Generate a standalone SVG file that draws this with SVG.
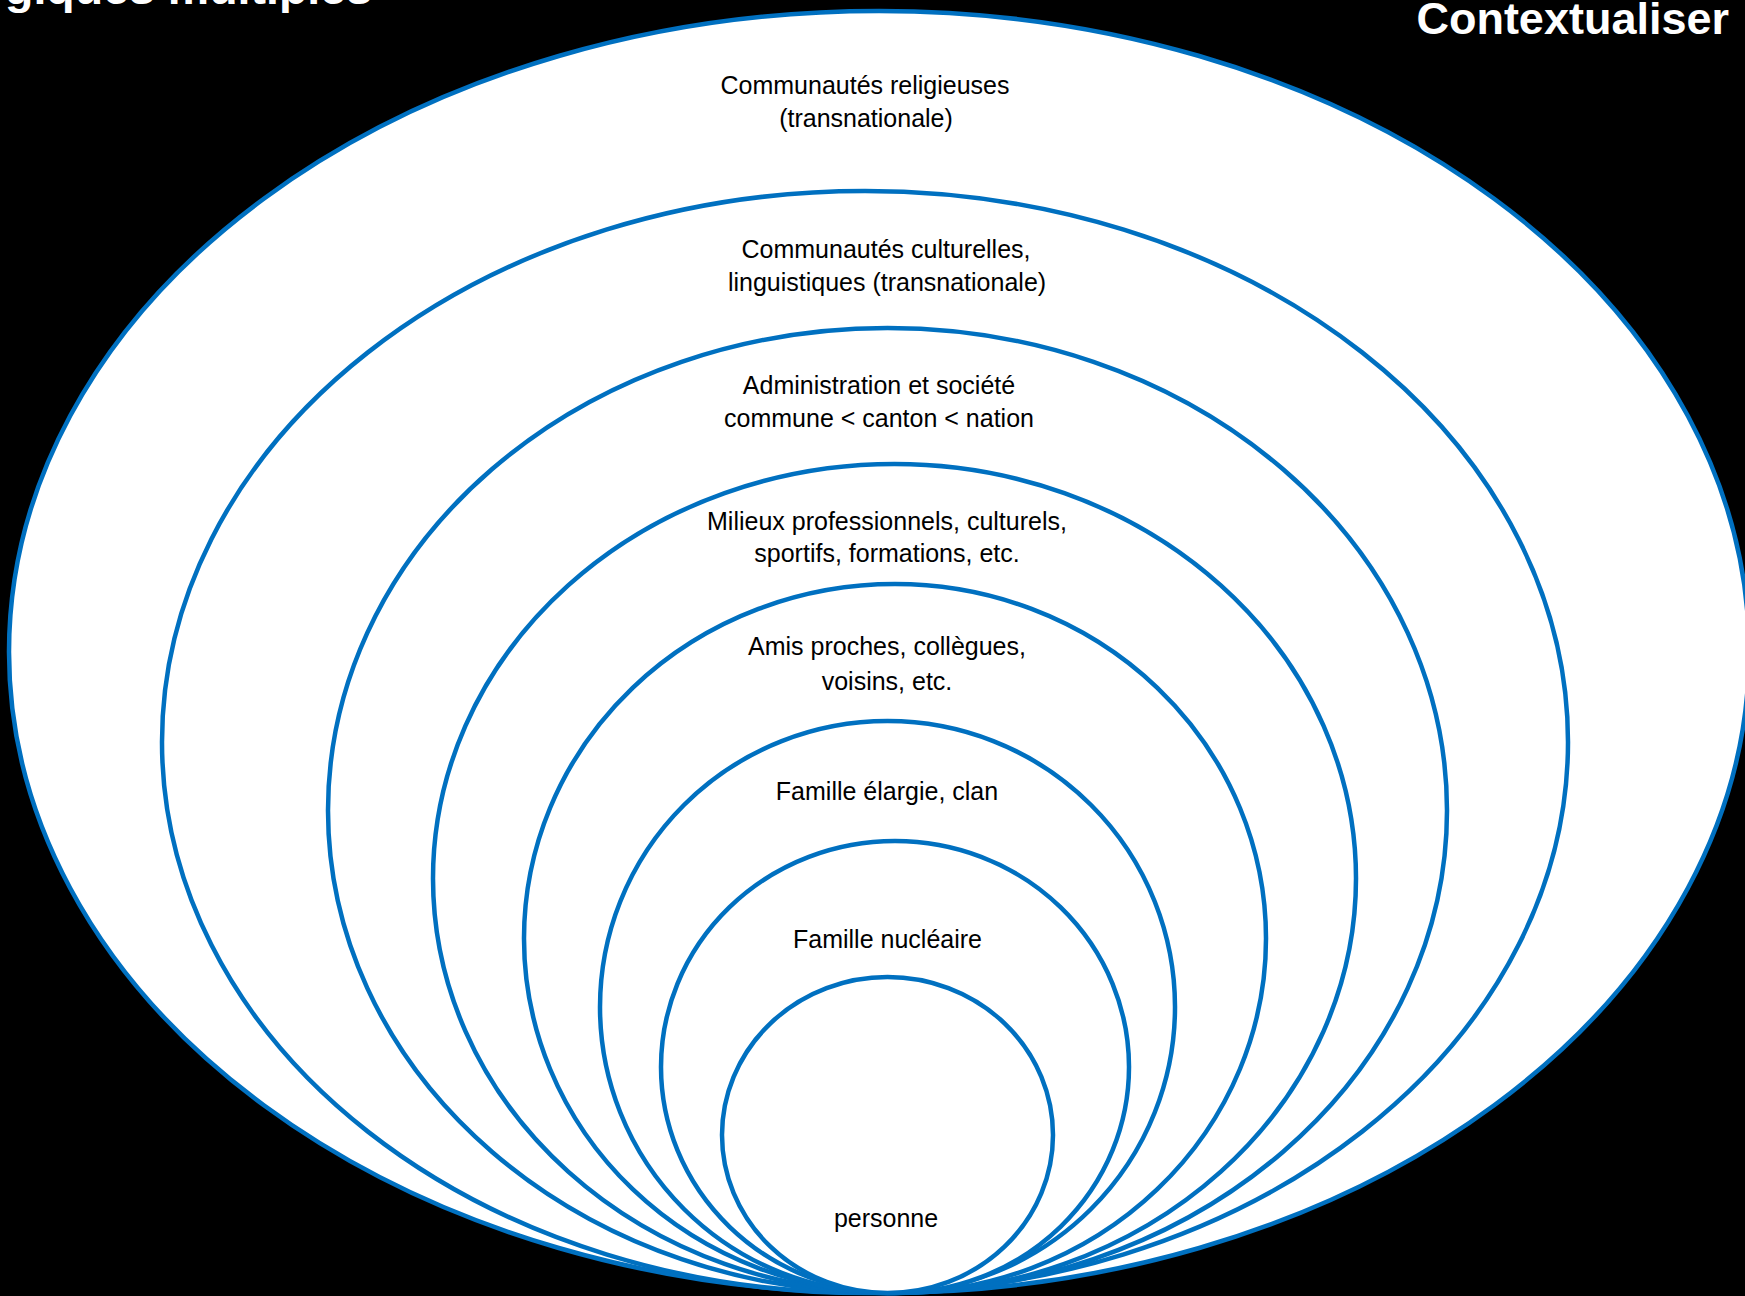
<svg xmlns="http://www.w3.org/2000/svg" width="1745" height="1296" viewBox="0 0 1745 1296">
  <style>
    .ring { fill: #ffffff; stroke: #0070C0; stroke-width: 4.5; }
    .lbl { font-family: "Liberation Sans", Arial, sans-serif; font-size: 25px; fill: #000000; text-anchor: middle; }
    .title { font-family: "Liberation Sans", Arial, sans-serif; font-size: 45px; font-weight: bold; fill: #ffffff; }
  </style>
  <rect x="0" y="0" width="1745" height="1296" fill="#000000"/>
  <g id="titles">
    <text class="title" x="5" y="4" textLength="367" lengthAdjust="spacingAndGlyphs">giques multiples</text>
    <text class="title" x="1729" y="34" text-anchor="end">Contextualiser</text>
  </g>
  <g id="connectors"></g>
  <g id="node-religieuses">
    <ellipse class="ring" cx="879" cy="652" rx="870" ry="641"/>
    <text class="lbl" x="865" y="94">Communautés religieuses</text>
    <text class="lbl" x="866" y="127">(transnationale)</text>
  </g>
  <g id="node-culturelles">
    <ellipse class="ring" cx="865" cy="742" rx="703" ry="551"/>
    <text class="lbl" x="886" y="258">Communautés culturelles,</text>
    <text class="lbl" x="887" y="291">linguistiques (transnationale)</text>
  </g>
  <g id="node-administration">
    <ellipse class="ring" cx="887.5" cy="810.5" rx="559.5" ry="482.5"/>
    <text class="lbl" x="879" y="394">Administration et société</text>
    <text class="lbl" x="879" y="427">commune &lt; canton &lt; nation</text>
  </g>
  <g id="node-milieux">
    <ellipse class="ring" cx="894.5" cy="878.5" rx="461.5" ry="414.5"/>
    <text class="lbl" x="887" y="530">Milieux professionnels, culturels,</text>
    <text class="lbl" x="887" y="562">sportifs, formations, etc.</text>
  </g>
  <g id="node-amis">
    <ellipse class="ring" cx="895" cy="938.5" rx="371" ry="354.5"/>
    <text class="lbl" x="887" y="655">Amis proches, collègues,</text>
    <text class="lbl" x="887" y="690">voisins, etc.</text>
  </g>
  <g id="node-famille-elargie">
    <ellipse class="ring" cx="887.5" cy="1007" rx="287.5" ry="286"/>
    <text class="lbl" x="887" y="800">Famille élargie, clan</text>
  </g>
  <g id="node-famille-nucleaire">
    <ellipse class="ring" cx="895" cy="1067" rx="234" ry="226"/>
    <text class="lbl" x="887.5" y="948">Famille nucléaire</text>
  </g>
  <g id="node-personne">
    <ellipse class="ring" cx="887.5" cy="1135" rx="165.5" ry="158"/>
    <text class="lbl" x="886" y="1227">personne</text>
  </g>
</svg>
